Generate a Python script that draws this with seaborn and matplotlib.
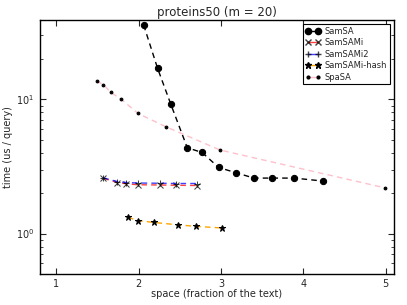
import matplotlib
matplotlib.use("Agg")
import matplotlib.pyplot as plt
from matplotlib.lines import Line2D
import seaborn as sns
import numpy as np

samsa_x = [2.06, 2.23, 2.39, 2.59, 2.77, 2.97, 3.18, 3.40, 3.62, 3.89, 4.24]
samsa_y = [35.9, 17.0, 9.2, 4.36, 4.02, 3.11, 2.84, 2.59, 2.59, 2.59, 2.46]

samsami_x = [1.57, 1.74, 1.85, 1.99, 2.26, 2.45, 2.71]
samsami_y = [2.58, 2.40, 2.35, 2.31, 2.30, 2.29, 2.28]

samsami2_x = [1.57, 1.74, 1.85, 1.99, 2.26, 2.45, 2.71]
samsami2_y = [2.60, 2.44, 2.40, 2.38, 2.37, 2.36, 2.36]

hash_x = [1.87, 1.99, 2.18, 2.48, 2.70, 3.01]
hash_y = [1.32, 1.25, 1.21, 1.16, 1.13, 1.10]

spasa_x = [1.49, 1.57, 1.66, 1.79, 1.99, 2.33, 2.99, 4.99]
spasa_y = [13.7, 12.9, 11.3, 10.0, 7.87, 6.25, 4.19, 2.19]

sns.set_style("ticks")
plt.rcParams['font.family'] = ['DejaVu Sans']

fig = plt.figure(figsize=(4.07, 3.05), dpi=100)
ax = fig.add_axes([0.098, 0.102, 0.870, 0.832])

series = [
    (samsa_x, samsa_y, "SamSA", "black", "o", 4.5),
    (samsami_x, samsami_y, "SamSAMi", "red", "x", 4.5),
    (samsami2_x, samsami2_y, "SamSAMi2", "blue", "+", 5),
    (hash_x, hash_y, "SamSAMi-hash", "orange", "*", 5),
    (spasa_x, spasa_y, "SpaSA", "pink", ".", 4),
]
handles = []
for xs, ys, lab, col, mk, ms in series:
    alpha = 0.75 if col in ("red", "blue") else 1
    sns.lineplot(x=xs, y=ys, ax=ax, color=col, linewidth=1,
                 marker=mk, markersize=ms, markerfacecolor="black",
                 markeredgecolor="black", sort=False, alpha=alpha)
    ln = ax.lines[-1]
    ln.set_linestyle((0, (4, 3)))
    handles.append(Line2D([0], [0], color=col, linestyle="-", linewidth=1,
                          marker=mk, markersize=ms, markerfacecolor="black",
                          markeredgecolor="black", alpha=alpha, label=lab))

ax.set_yscale("log")
ax.set_xlim(0.8, 5.1)
ax.set_ylim(0.5, 39)
ax.set_xticks([1, 2, 3, 4, 5])
ax.tick_params(which="both", direction="in", top=True, right=True, labelsize=7)
ax.tick_params(which="major", length=4, pad=4)
ax.tick_params(which="minor", length=2)
for s in ax.spines.values():
    s.set_linewidth(1)
    s.set_color("black")

ax.set_title("proteins50 (m = 20)", fontsize=8.5, pad=3)
ax.set_xlabel("space (fraction of the text)", fontsize=7, labelpad=0)
ax.set_ylabel("time (us / query)", fontsize=7, labelpad=2)

leg = ax.legend(handles=handles, loc="upper right", numpoints=2, fontsize=6,
                frameon=True, fancybox=False, edgecolor="black",
                handlelength=1.8, borderpad=0.3, labelspacing=0.3,
                handletextpad=0.5, framealpha=1)
leg.get_frame().set_linewidth(0.8)

fig.savefig("out.png", dpi=100)
